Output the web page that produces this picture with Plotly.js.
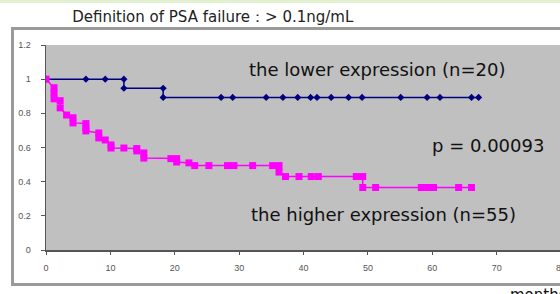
<!DOCTYPE html>
<html>
<head>
<meta charset="utf-8">
<script src="https://cdn.plot.ly/plotly-3.0.1.min.js"></script>
<style>
html,body{margin:0;padding:0;overflow:hidden;background:#fff;}
#wrap{position:relative;width:560px;height:294px;overflow:hidden;}
#chart{position:absolute;left:0;top:0;width:575px;height:294px;}
#topband{position:absolute;left:0;top:0;width:560px;height:3px;background:#e2f2d0;}
#frame{position:absolute;left:11px;top:27px;width:600px;height:253px;border:3px solid #9a9a9a;pointer-events:none;}
</style>
</head>
<body>
<div id="wrap">
<div id="chart"></div>
<div id="topband"></div>
<div id="frame"></div>
</div>
<script>
// Lower expression group (n=20): step points (months, survival)
const loMonths = [0, 6.2, 9.2, 12.1, 12.1, 18.2, 18.2, 27.2, 29.0, 34.2, 36.8, 39.1, 41.1, 42.1, 44.3, 47.0, 49.1, 55.1, 59.2, 61.2, 66.1, 67.2];
const loSurv   = [1, 1, 1, 1, 0.947, 0.947, 0.893, 0.893, 0.893, 0.893, 0.893, 0.893, 0.893, 0.893, 0.893, 0.893, 0.893, 0.893, 0.893, 0.893, 0.893, 0.893];

// Higher expression group (n=55): step points (months, survival)
const hiMonths = [0, 1.25, 1.25, 1.25, 2.2, 2.2, 3.2, 4.2, 4.2, 6.2, 6.2, 6.2, 8.2, 8.2, 9.2, 10.1, 10.1, 12.1, 14.1, 14.1, 15.2, 15.2, 19.4, 20.3, 20.3, 22.2, 23.1, 25.3, 28.2, 29.2, 32.1, 35.2, 36.2, 36.2, 37.2, 39.3, 41.2, 42.3, 48.2, 49.2, 49.2, 51.2, 58.3, 59.3, 60.2, 64.1, 66.1];
const hiSurv   = [1, 0.95, 0.92, 0.885, 0.874, 0.832, 0.79, 0.774, 0.744, 0.74, 0.715, 0.697, 0.685, 0.656, 0.644, 0.615, 0.597, 0.597, 0.594, 0.58, 0.568, 0.538, 0.535, 0.535, 0.515, 0.51, 0.494, 0.494, 0.494, 0.494, 0.494, 0.494, 0.494, 0.456, 0.43, 0.43, 0.43, 0.43, 0.43, 0.43, 0.366, 0.366, 0.366, 0.366, 0.366, 0.366, 0.366];

const xTicks = [0, 10, 20, 30, 40, 50, 60, 70, 80];
const yTicks = [0, 0.2, 0.4, 0.6, 0.8, 1, 1.2];
const yTickText = ["0", "0.2", "0.4", "0.6", "0.8", "1", "1.2"];

const titleText = "Definition of PSA failure\uFF1A> 0.1ng/mL";
const lowerLabel = "the lower expression (n=20)";
const higherLabel = "the higher expression (n=55)";
const pLabel = "p = 0.00093";
const xLabel = "months";

const F = "DejaVu Sans, Verdana, sans-serif";

const traces = [
  {x: loMonths, y: loSurv, type: "scatter", mode: "lines+markers",
   line: {color: "#000080", width: 1.5}, marker: {symbol: "diamond", size: 5.5, color: "#000080"},
   hoverinfo: "skip", showlegend: false},
  {x: hiMonths, y: hiSurv, type: "scatter", mode: "lines+markers",
   line: {color: "#ff00ff", width: 1.5}, marker: {symbol: "square", size: 7, color: "#ff00ff"},
   hoverinfo: "skip", showlegend: false}
];

const PW = 515, PH = 205;   // plot area size in px (for paper fractions)
const layout = {
  width: 575, height: 294,
  margin: {l: 46, r: 14, t: 45, b: 44},
  paper_bgcolor: "#ffffff", plot_bgcolor: "#c0c0c0", showlegend: false,
  title: {text: titleText, x: 0.37, xref: "container", xanchor: "center",
    y: 0.942, yref: "container", yanchor: "middle", font: {family: F, size: 15, color: "#222"}},
  xaxis: {range: [0, 80], tickvals: xTicks, ticktext: xTicks.map(String),
    showgrid: false, zeroline: false, showline: true, linecolor: "#555", linewidth: 1.5,
    ticks: "outside", ticklen: 3, tickcolor: "#555", ticklabelstandoff: 6,
    tickfont: {family: "Liberation Sans, Arial, sans-serif", size: 9, color: "#555"}, fixedrange: true},
  yaxis: {range: [0, 1.2], tickvals: yTicks, ticktext: yTickText,
    showgrid: false, zeroline: false, showline: true, linecolor: "#555", linewidth: 1.5,
    ticks: "outside", ticklen: 4, tickcolor: "#555", ticklabelstandoff: 8,
    tickfont: {family: "Liberation Sans, Arial, sans-serif", size: 9, color: "#555"}, fixedrange: true},
  annotations: [
    {x: 51.4, y: 1.059, xref: "x", yref: "y", text: lowerLabel, showarrow: false,
     xanchor: "center", yanchor: "middle", font: {family: F, size: 18, color: "#111"}},
    {x: 68.6, y: 0.609, xref: "x", yref: "y", text: pLabel, showarrow: false,
     xanchor: "center", yanchor: "middle", font: {family: F, size: 18, color: "#111"}},
    {x: 52.5, y: 0.209, xref: "x", yref: "y", text: higherLabel, showarrow: false,
     xanchor: "center", yanchor: "middle", font: {family: F, size: 18, color: "#111"}},
    {x: (508 - 46) / PW, y: (250 - 284) / PH, xref: "paper", yref: "paper", text: xLabel, showarrow: false,
     xanchor: "left", yanchor: "top", font: {family: F, size: 15, color: "#111"}}
  ]
};

Plotly.newPlot("chart", traces, layout, {staticPlot: true, displayModeBar: false});
</script>
</body>
</html>
